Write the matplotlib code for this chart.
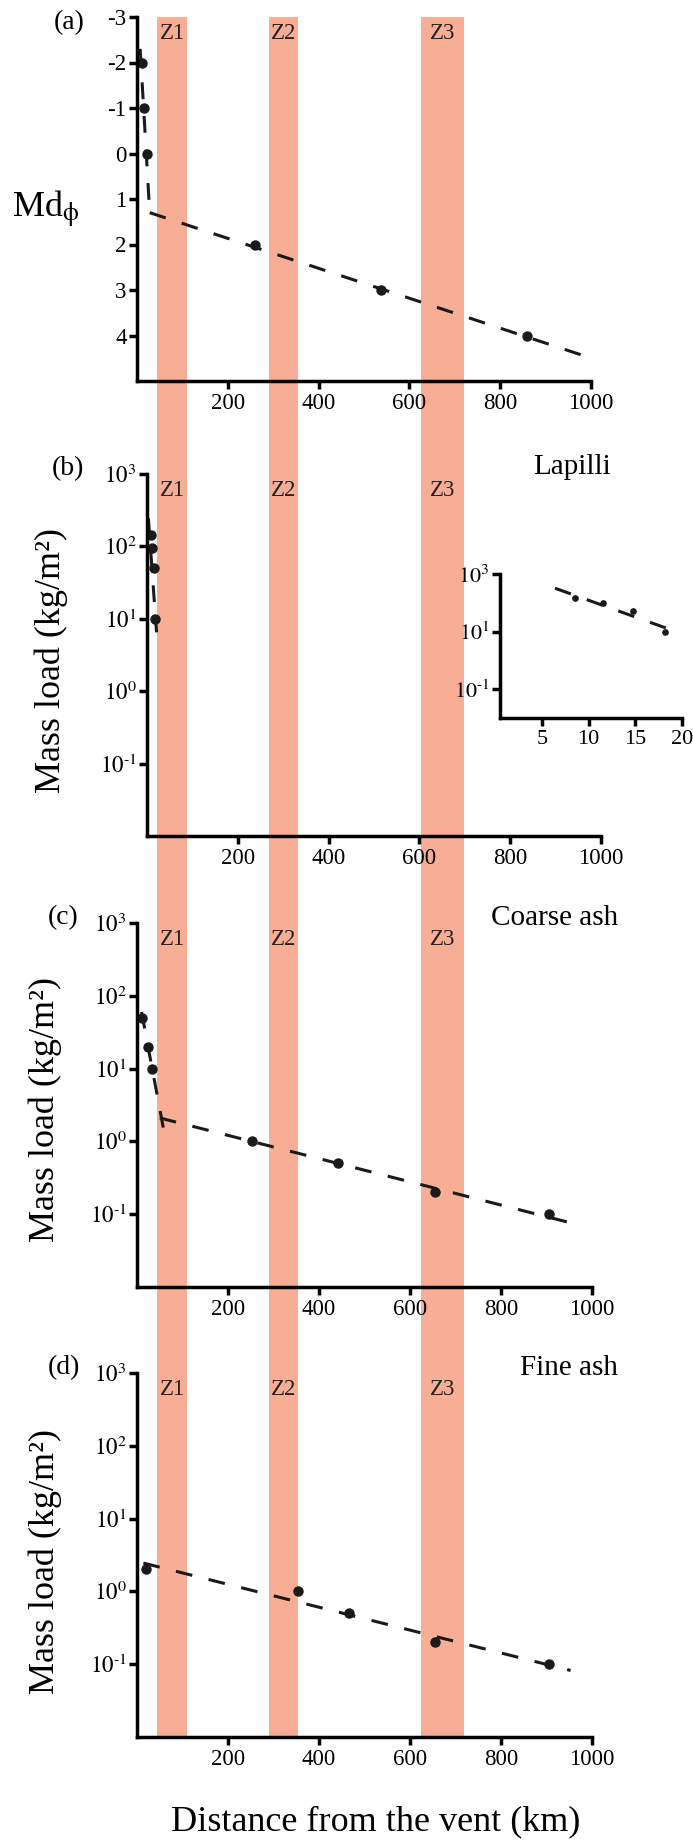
import matplotlib.pyplot as plt
from matplotlib.patches import Rectangle
from matplotlib.ticker import NullLocator
from matplotlib.transforms import blended_transform_factory

plt.rcParams['font.family'] = ['Liberation Serif', 'DejaVu Serif']
plt.rcParams['mathtext.fontset'] = 'stix'

W, H = 693, 1843

# zones along the dispersal axis (km)
zones = ["Z1", "Z2", "Z3"]
zone_start = [45, 290, 625]
zone_end = [110, 355, 720]
zone_color = '#F7AE94'

# (a) median grain size
md_dist = [12, 15, 21, 259, 537, 858]
md_phi = [-2, -1, 0, 2, 3, 4]
md_fit1_x = [7, 28]
md_fit1_y = [-2.3, 1.3]
md_fit2_x = [28, 992]
md_fit2_y = [1.3, 4.47]
md_ticks = [-3, -2, -1, 0, 1, 2, 3, 4]

# (b) lapilli
lap_dist = [8.5, 11.5, 14.7, 18.2]
lap_load = [145, 95, 50, 10]
lap_fit_x = [3, 21]
lap_fit_y = [245, 6.5]
lap_inset_fit_x = [6.4, 19]
lap_inset_fit_y = [320, 11]

# (c) coarse ash
coarse_dist = [12, 24, 32, 253, 442, 656, 905]
coarse_load = [50, 20, 10, 1, 0.5, 0.2, 0.1]
coarse_fit1_x = [10, 60]
coarse_fit1_y = [60, 1.3]
coarse_fit2_x = [50, 950]
coarse_fit2_y = [2.1, 0.077]

# (d) fine ash
fine_dist = [19, 353, 465, 654, 905]
fine_load = [2, 1, 0.5, 0.2, 0.1]
fine_fit_x = [14, 953]
fine_fit_y = [2.45, 0.082]

dist_ticks = [200, 400, 600, 800, 1000]
log_ticks = [1e-1, 1, 10, 100, 1000]
log_labels = [r'$10^{\text{-}1}$', r'$10^{0}$', r'$10^{1}$', r'$10^{2}$', r'$10^{3}$']

DASH = (0, (5.5, 5.5))

fig = plt.figure(figsize=(W / 100, H / 100), dpi=100)


def add_panel(left, top, right, bottom, size=16.5):
    ax = fig.add_axes([left / W, 1 - bottom / H, (right - left) / W, (bottom - top) / H])
    ax.set_facecolor('none')
    for side in ['top', 'right']:
        ax.spines[side].set_visible(False)
    for side in ['left', 'bottom']:
        ax.spines[side].set_linewidth(2.5)
    ax.tick_params(width=2.5, length=5.5, labelsize=size, direction='out')
    ax.tick_params(axis='y', pad=2)
    ax.tick_params(axis='x', pad=3)
    return ax


def log_axis(ax, ticks, labels):
    ax.set_yscale('log')
    ax.set_ylim(1e-2, 1e3)
    ax.set_yticks(ticks)
    ax.set_yticklabels(labels)
    ax.yaxis.set_minor_locator(NullLocator())


def dist_axis(ax):
    ax.set_xlim(0, 1000)
    ax.set_xticks(dist_ticks)
    ax.set_xticklabels([str(t) for t in dist_ticks])


def fig_text(x, y, s, **kw):
    fig.text(x / W, 1 - y / H, s, **kw)


# panel (a)
ax_a = add_panel(137, 17, 591, 381)
dist_axis(ax_a)
ax_a.set_ylim(5, -3)
ax_a.set_yticks(md_ticks)
ax_a.set_yticklabels([str(t) for t in md_ticks])
ax_a.plot(md_fit1_x, md_fit1_y, color='#1a1a1a', lw=2.2, ls=DASH)
ax_a.plot(md_fit2_x, md_fit2_y, color='#1a1a1a', lw=2.2, ls=DASH)
ax_a.plot(md_dist, md_phi, 'o', color='#1a1a1a', ms=6.5)

# panel (b)
ax_b = add_panel(147, 474, 601, 836)
dist_axis(ax_b)
log_axis(ax_b, log_ticks, log_labels)
ax_b.plot(lap_fit_x, lap_fit_y, color='#1a1a1a', lw=2.2, ls=DASH)
ax_b.plot(lap_dist, lap_load, 'o', color='#1a1a1a', ms=6.5)

# inset: first 20 km of the lapilli profile
ax_in = add_panel(500, 574, 682, 718, size=16)
ax_in.set_xlim(0.5, 20)
ax_in.set_xticks([5, 10, 15, 20])
log_axis(ax_in, [1e-1, 10, 1000], [r'$10^{\text{-}1}$', r'$10^{1}$', r'$10^{3}$'])
ax_in.plot(lap_inset_fit_x, lap_inset_fit_y, color='#1a1a1a', lw=2.2, ls=DASH)
ax_in.plot(lap_dist, lap_load, 'o', color='#1a1a1a', ms=3.8)

# panel (c)
ax_c = add_panel(137, 923, 592, 1287)
dist_axis(ax_c)
log_axis(ax_c, log_ticks, log_labels)
ax_c.plot(coarse_fit1_x, coarse_fit1_y, color='#1a1a1a', lw=2.2, ls=DASH)
ax_c.plot(coarse_fit2_x, coarse_fit2_y, color='#1a1a1a', lw=2.2, ls=DASH)
ax_c.plot(coarse_dist, coarse_load, 'o', color='#1a1a1a', ms=6.5)

# panel (d)
ax_d = add_panel(137, 1373, 592, 1737)
dist_axis(ax_d)
log_axis(ax_d, log_ticks, log_labels)
ax_d.plot(fine_fit_x, fine_fit_y, color='#1a1a1a', lw=2.2, ls=DASH)
ax_d.plot(fine_dist, fine_load, 'o', color='#1a1a1a', ms=6.5)

# zone bands run through all four panels
band_tr = blended_transform_factory(ax_a.transData, fig.transFigure)
y0 = 1 - 1737 / H
y1 = 1 - 17 / H
for s, e in zip(zone_start, zone_end):
    fig.add_artist(Rectangle((s, y0), e - s, y1 - y0, transform=band_tr,
                             facecolor=zone_color, edgecolor='none', zorder=-1))

for ax in [ax_a, ax_b, ax_c, ax_d]:
    tr = blended_transform_factory(ax_a.transData, ax.transAxes)
    for name, s, e in zip(zones, zone_start, zone_end):
        ax.annotate(name, xy=((s + e) / 2, 1), xycoords=tr, xytext=(0, -4.5),
                    textcoords='offset points', ha='center', va='top',
                    fontsize=16.5, color='#222222')

# labels
fig_text(69, 22.5, '(a)', fontsize=20, ha='center', va='center')
fig_text(67.5, 468.5, '(b)', fontsize=20, ha='center', va='center')
fig_text(63.5, 917.5, '(c)', fontsize=20, ha='center', va='center')
fig_text(63.5, 1368, '(d)', fontsize=20, ha='center', va='center')

fig_text(611, 474, 'Lapilli', fontsize=21, ha='right', va='baseline')
fig_text(618, 925, 'Coarse ash', fontsize=21, ha='right', va='baseline')
fig_text(618, 1375, 'Fine ash', fontsize=21, ha='right', va='baseline')

fig_text(46, 209, r'Md$_{\mathrm{\phi}}$', fontsize=26, ha='center', va='center')
fig_text(51, 660, 'Mass load (kg/m²)', fontsize=26, rotation=90, ha='center', va='center')
fig_text(45.5, 1110, 'Mass load (kg/m²)', fontsize=26, rotation=90, ha='center', va='center')
fig_text(45.5, 1561, 'Mass load (kg/m²)', fontsize=26, rotation=90, ha='center', va='center')
fig_text(375.5, 1821.5, 'Distance from the vent (km)', fontsize=26, ha='center', va='center')

fig.savefig('out.png', dpi=100)
